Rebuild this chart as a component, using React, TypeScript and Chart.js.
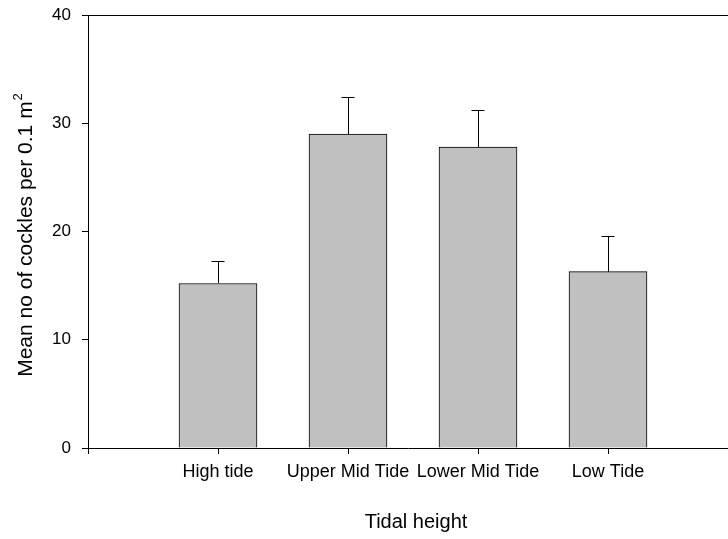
import { useEffect, useRef } from 'react';
import { Chart, registerables } from 'chart.js';

Chart.register(...registerables);

// Mean cockle density per tidal zone, with standard error (upper bar only)
const tidalHeights = ['High tide', 'Upper Mid Tide', 'Lower Mid Tide', 'Low Tide'];
const meanCockles = [15.2, 29.0, 27.8, 16.3];
const standardErrors = [2.1, 3.4, 3.4, 3.3];
const yTickValues = [0, 10, 20, 30, 40];
const xTickPositions = [0, 1, 2, 3, 4];
const yAxisTitle = 'Mean no of cockles per 0.1 m';
const yAxisTitleSup = '2';
const xAxisTitle = 'Tidal height';

const FONT = '"Liberation Sans", Arial, sans-serif';

const overlayPlugin = {
  id: 'overlay',
  afterDatasetsDraw(chart: any) {
    const { ctx, chartArea, scales } = chart;
    ctx.save();
    ctx.strokeStyle = '#000';
    ctx.lineWidth = 1;

    // upper error bars with caps
    const meta = chart.getDatasetMeta(0);
    meta.data.forEach((bar: any, i: number) => {
      const x = Math.round(bar.x) + 0.5;
      const yMean = Math.round(scales.y.getPixelForValue(meanCockles[i]));
      const yHigh = Math.round(scales.y.getPixelForValue(meanCockles[i] + standardErrors[i])) + 0.5;
      ctx.beginPath();
      ctx.moveTo(x, yMean);
      ctx.lineTo(x, yHigh);
      ctx.moveTo(x - 7, yHigh);
      ctx.lineTo(x + 6, yHigh);
      ctx.stroke();
    });

    // top frame line
    const yTop = Math.round(chartArea.top) + 0.5;
    ctx.beginPath();
    ctx.moveTo(chartArea.left, yTop);
    ctx.lineTo(chart.width, yTop);
    ctx.stroke();
    ctx.restore();
  },
  afterDraw(chart: any) {
    const { ctx, chartArea, scales } = chart;
    ctx.save();
    ctx.fillStyle = '#000';

    // x axis title
    ctx.font = `20px ${FONT}`;
    ctx.textAlign = 'center';
    ctx.textBaseline = 'middle';
    ctx.fillText(xAxisTitle, scales.x.getPixelForValue(2.5) + 3, 522);

    // y axis title with superscript
    const cy = (chartArea.top + chartArea.bottom) / 2 + 4;
    ctx.translate(25, cy);
    ctx.rotate(-Math.PI / 2);
    ctx.font = `21px ${FONT}`;
    const mainW = ctx.measureText(yAxisTitle).width;
    ctx.font = `13px ${FONT}`;
    const supW = ctx.measureText(yAxisTitleSup).width;
    const total = mainW + supW;
    ctx.textAlign = 'left';
    ctx.textBaseline = 'alphabetic';
    ctx.font = `21px ${FONT}`;
    ctx.fillText(yAxisTitle, -total / 2, 7);
    ctx.font = `13px ${FONT}`;
    ctx.fillText(yAxisTitleSup, -total / 2 + mainW + 1, -3);
    ctx.restore();
  },
};

export default function App() {
  const canvasRef = useRef<HTMLCanvasElement | null>(null);

  useEffect(() => {
    if (!canvasRef.current) return;
    const chart = new Chart(canvasRef.current, {
      type: 'bar',
      data: {
        datasets: [
          {
            data: meanCockles.map((v, i) => ({ x: i + 1, y: v })),
            backgroundColor: '#c0c0c0',
            borderColor: '#000',
            borderWidth: 1,
            barThickness: 78,
          },
        ],
      },
      options: {
        responsive: false,
        animation: false,
        events: [],
        layout: { padding: { left: 0, top: 15, right: 0, bottom: 0 } },
        plugins: {
          legend: { display: false },
          tooltip: { enabled: false },
        },
        scales: {
          x: {
            type: 'linear',
            offset: false,
            min: 0,
            max: 640 / 130,
            grid: { display: true, offset: false, drawOnChartArea: false, drawTicks: true, tickLength: 6, color: '#000' },
            border: { display: true, color: '#000', width: 1 },
            ticks: {
              autoSkip: false,
              maxRotation: 0,
              padding: 7,
              color: '#000',
              font: { family: FONT, size: 18 },
              callback: (value: any) => tidalHeights[Number(value) - 1] ?? '',
            },
            afterBuildTicks: (scale: any) => {
              scale.ticks = xTickPositions.map((v) => ({ value: v }));
            },
            afterFit: (scale: any) => {
              scale.height = 91;
              scale.paddingLeft = 0;
              scale.paddingRight = 0;
            },
          },
          y: {
            min: 0,
            max: 40,
            grid: { display: true, drawOnChartArea: false, drawTicks: true, tickLength: 6, color: '#000' },
            border: { display: true, color: '#000', width: 1 },
            ticks: {
              padding: 11,
              color: '#000',
              font: { family: FONT, size: 17 },
            },
            afterBuildTicks: (scale: any) => {
              scale.ticks = yTickValues.map((v) => ({ value: v }));
            },
            afterFit: (scale: any) => {
              scale.width = 88;
              scale.paddingTop = 0;
              scale.paddingBottom = 0;
            },
          },
        },
      },
      plugins: [overlayPlugin],
    });
    return () => chart.destroy();
  }, []);

  return (
    <div style={{ position: 'fixed', left: 0, top: 0, width: 728, height: 539, background: '#fff' }}>
      <canvas ref={canvasRef} width={728} height={539} style={{ display: 'block' }} />
    </div>
  );
}
